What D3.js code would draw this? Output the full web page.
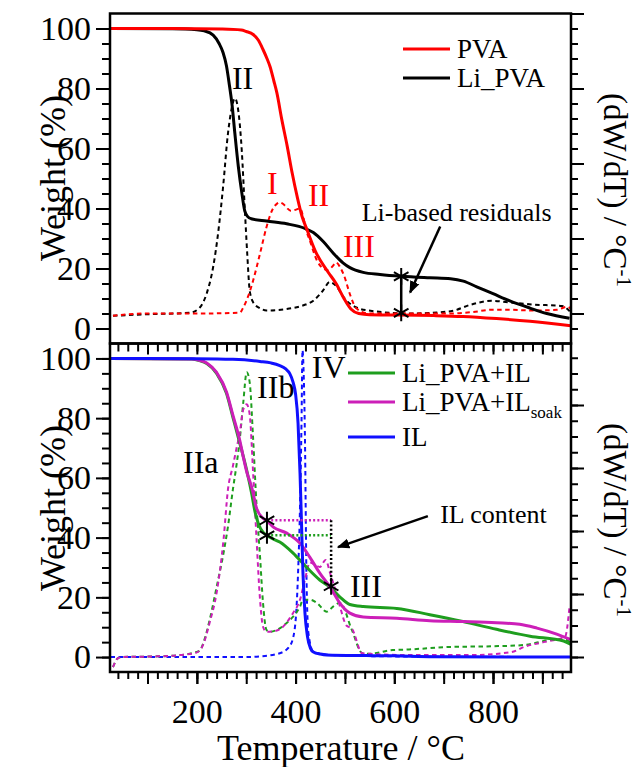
<!DOCTYPE html>
<html>
<head>
<meta charset="utf-8">
<script src="https://cdn.jsdelivr.net/npm/d3@7"></script>
<style>
  body { margin: 0; background: #fff; }
  svg text { font-family: "Liberation Serif", "Times New Roman", serif; fill: #000; }
</style>
</head>
<body>
<svg id="chart" width="642" height="767"></svg>
<script>
// ---- TG curves: [temperature °C, weight %] ----
const pvaTG = [[25,100],[150,100],[250,99.8],[290,99.5],[300,99],[314,98],[325,96],[334,93],[342,90],[348,87.4],[356,82.5],[362,78.6],[372,69.7],[383,60.8],[393,51.9],[403,44.1],[413,37.4],[423,33],[440,25.8],[465,19],[482,15],[498,10],[512,6.5],[528,5],[550,4.6],[605,4.5],[680,4.3],[739,4.0],[807,3.3],[875,2.4],[958,0.9]];
const liPvaTG = [[25,100],[150,99.9],[200,99.6],[215,99.2],[233,97.8],[245,95],[253,92],[260,87.5],[266,81],[271,75],[277,65],[284,54],[291,45.3],[297,39.2],[303,37.3],[310,36.6],[341,35.8],[382,34.9],[420,33.3],[436,32],[456,29],[476,25.2],[496,21.9],[510,20.3],[537,18.7],[571,18],[614,17.4],[672,16.9],[714,16.6],[740,15.8],[767,13.9],[800,11.6],[834,9.2],[875,6.8],[909,5],[955,3.4]];
const liPvaIlTG = [[25,100],[190,99.8],[205,99.3],[220,98.3],[240,95],[260,88.3],[273,80.3],[287,71.6],[301,62.5],[311,54.8],[318,48.5],[325,44.5],[334,41.8],[342,40.8],[348,40.1],[368,38.5],[395,34.8],[422,30.1],[449,25.8],[470,23.4],[490,20.1],[510,17.6],[537,16.9],[605,16.3],[672,14.2],[739,11.9],[807,9.3],[875,7],[943,5.4],[958,4.2]];
const soakTG = [[25,100],[190,99.8],[205,99.4],[220,98.5],[240,95.3],[260,88.8],[273,81],[287,72.5],[294,67],[301,62],[311,56.9],[321,49.8],[334,46.5],[342,45.6],[355,43.5],[382,41.5],[409,38.1],[429,33.4],[449,28.1],[470,23.4],[490,18],[510,14.7],[537,13.4],[605,13],[672,12.2],[739,11.9],[807,11.5],[854,11],[889,9.7],[929,7.7],[958,5.8]];
const ilTG = [[25,100],[200,99.9],[273,99.7],[328,99],[350,98.5],[368,97.6],[380,96.5],[388,95],[395,92],[400,88],[405,78.3],[409,61.5],[412,44.8],[415,28],[419,14.7],[424,7],[430,3],[436,1.7],[450,1],[463,0.7],[544,0.5],[600,0.4],[680,0.1],[958,0]];

// ---- DTG curves: [temperature °C, dW/dT] on the right-hand axes ----
const pvaDTG = [[30,-0.03],[100,0],[200,0],[287,0.01],[294,0.08],[305,0.25],[314,0.44],[328,0.8],[341,1.15],[352,1.37],[360,1.45],[368,1.48],[375,1.46],[382,1.41],[390,1.37],[398,1.38],[409,1.4],[415,1.3],[422,1.1],[429,0.97],[443,0.71],[456,0.6],[465,0.58],[475,0.63],[482,0.68],[490,0.62],[498,0.51],[511,0.24],[523,0.07],[548,0.0],[631,0.0],[714,0.0],[760,0.02],[797,0.05],[830,0.05],[880,0.04],[930,0.05],[950,0.09],[958,0.06]];
const liPvaDTG = [[30,-0.03],[100,-0.01],[186,0.01],[206,0.08],[220,0.27],[233,0.62],[243,1.07],[253,1.68],[263,2.4],[271,2.75],[277,2.87],[284,2.7],[291,2.17],[297,1.41],[302,0.8],[307,0.31],[314,0.15],[328,0.07],[341,0.04],[382,0.06],[416,0.11],[436,0.17],[456,0.31],[469,0.42],[483,0.36],[498,0.21],[523,0.08],[548,0.04],[631,0.0],[714,0.03],[756,0.12],[797,0.17],[830,0.15],[880,0.12],[940,0.1],[957,0.02]];
const ilDTG = [[25,0],[300,0],[328,0.01],[368,0.06],[388,0.17],[398,0.43],[405,1.33],[409,2.4],[412,3.72],[414,4.87],[416,4.6],[419,3.46],[422,1.3],[426,0.38],[436,0.08],[476,0.03],[600,0.01],[958,0]];
const liPvaIlDTG = [[30,-0.16],[40,-0.02],[50,0.0],[120,0.01],[166,0.03],[199,0.08],[206,0.1],[213,0.22],[226,0.59],[240,1.11],[254,1.65],[263,2.07],[273,2.66],[280,3.03],[287,3.46],[294,4.04],[301,4.52],[307,4.36],[314,3.46],[321,2.39],[328,1.59],[334,0.86],[341,0.43],[348,0.4],[362,0.43],[382,0.54],[395,0.64],[409,0.8],[415,0.91],[429,0.91],[443,0.86],[463,0.72],[476,0.8],[490,0.86],[514,0.43],[535,0.06],[548,0.05],[597,0.11],[630,0.12],[714,0.16],[797,0.17],[863,0.19],[921,0.27],[950,0.27],[958,0.2]];
const soakDTG = [[30,-0.16],[40,-0.02],[50,0],[120,0.01],[166,0.03],[199,0.07],[213,0.2],[226,0.55],[240,1.02],[254,1.86],[263,2.66],[273,3.03],[280,3.3],[287,3.56],[294,3.93],[301,4.01],[307,3.85],[314,2.92],[321,1.86],[328,0.91],[334,0.48],[341,0.4],[362,0.42],[395,0.7],[409,0.91],[419,1.23],[429,1.5],[449,1.43],[461,1.54],[470,1.33],[483,1.0],[490,0.8],[503,0.5],[514,0.45],[535,0.06],[630,0.03],[755,0.03],[838,0.08],[863,0.16],[905,0.24],[946,0.32],[955,0.8]];

// ---- IL content guides and Li residual marks: [temperature, weight %] ----
const residualMarks = [[614,17.4],[614,5.2]];
const ilContentMarks = [[342,45.8],[342,40.8],[472,23.7]];
const ilSoakLevel = [[342,45.8],[472,45.8]];
const ilLevel = [[342,40.8],[472,40.8]];
const ilDrop = [[472,45.8],[472,23.7]];

// ---- tick labels ----
const xTickLabels = [200, 400, 600, 800];
const yTickLabels = [0, 20, 40, 60, 80, 100];

const COLORS = { pva: "#ff0000", li: "#000000", il: "#1010ff", liIl: "#1e9e1e", soak: "#cc1fb8" };

const svg = d3.select("#chart");
const X0 = 110, X1 = 571;
const x = d3.scaleLinear().domain([24, 958]).range([X0, X1]);

const panelTop = { y0: 13.5, y1: 343.5 };
const panelBot = { y0: 343.5, y1: 672 };
const yTop = d3.scaleLinear().domain([-5, 105]).range([panelTop.y1, panelTop.y0]);
const yBot = d3.scaleLinear().domain([-5, 105]).range([panelBot.y1, panelBot.y0]);
const rTop = d3.scaleLinear().domain([-0.4, 4]).range([panelTop.y1, panelTop.y0]);
const rBot = d3.scaleLinear().domain([0, 5]).range([657, 342]);

const defs = svg.append("defs");
[["clipTop", panelTop], ["clipBot", panelBot]].forEach(([id, p]) => {
  defs.append("clipPath").attr("id", id).append("rect")
    .attr("x", X0).attr("y", p.y0).attr("width", X1 - X0).attr("height", p.y1 - p.y0);
});
defs.append("marker").attr("id", "arrow").attr("viewBox", "0 0 10 10")
  .attr("refX", 9).attr("refY", 5).attr("markerWidth", 5).attr("markerHeight", 5)
  .attr("orient", "auto").attr("markerUnits", "strokeWidth")
  .append("path").attr("d", "M0,1 L10,5 L0,9 Z").attr("fill", "#000");

function curve(g, data, y, color, dashed, width) {
  g.append("path").datum(data)
    .attr("fill", "none").attr("stroke", color)
    .attr("stroke-width", width || (dashed ? 2 : 3))
    .attr("stroke-dasharray", dashed ? "4.5,3.5" : null)
    .attr("stroke-linejoin", "round")
    .attr("d", d3.line().x(d => x(d[0])).y(d => y(d[1])).curve(d3.curveMonotoneX));
}

function guide(g, data, y, color) {
  g.append("path").datum(data)
    .attr("fill", "none").attr("stroke", color).attr("stroke-width", 2.5)
    .attr("stroke-dasharray", "2,2.2")
    .attr("d", d3.line().x(d => x(d[0])).y(d => y(d[1])));
}

function asterisks(g, data, y) {
  g.selectAll(null).data(data).enter().append("path")
    .attr("transform", d => `translate(${x(d[0])},${y(d[1])})`)
    .attr("d", d3.symbol(d3.symbolAsterisk, 200)())
    .attr("fill", "none").attr("stroke", "#000").attr("stroke-width", 2);
}

function styleAxis(sel) {
  sel.select(".domain").remove();
  sel.selectAll(".tick line").attr("stroke", "#000").attr("stroke-width", 2);
  sel.selectAll(".tick text").attr("font-size", 34).attr("fill", "#000");
}

function leftAxis(y) {
  svg.append("g").attr("transform", `translate(${X0},0)`)
    .call(d3.axisLeft(y).tickValues(d3.range(0, 101, 5)).tickSize(8).tickFormat(""))
    .call(styleAxis);
  svg.append("g").attr("transform", `translate(${X0},0)`)
    .call(d3.axisLeft(y).tickValues(yTickLabels).tickSize(14).tickPadding(5).tickFormat(d3.format("d")))
    .call(styleAxis);
}

function rightAxis(r, minorStep, lo, hi) {
  const minor = d3.range(lo, hi + 1e-6, minorStep).map(v => +v.toFixed(3));
  const major = minor.filter(v => Math.abs(v - Math.round(v)) < 1e-6);
  svg.append("g").attr("transform", `translate(${X1},0)`)
    .call(d3.axisRight(r).tickValues(minor).tickSize(7).tickFormat(""))
    .call(styleAxis);
  svg.append("g").attr("transform", `translate(${X1},0)`)
    .call(d3.axisRight(r).tickValues(major).tickSize(13).tickFormat(""))
    .call(styleAxis);
}

// ---------- upper panel: PVA and Li_PVA ----------
const gTop = svg.append("g").attr("clip-path", "url(#clipTop)");
curve(gTop, liPvaDTG, rTop, COLORS.li, true);
curve(gTop, pvaDTG, rTop, COLORS.pva, true);
curve(gTop, liPvaTG, yTop, COLORS.li, false);
curve(gTop, pvaTG, yTop, COLORS.pva, false);

svg.append("line")
  .attr("x1", x(residualMarks[0][0])).attr("y1", yTop(residualMarks[0][1]))
  .attr("x2", x(residualMarks[1][0])).attr("y2", yTop(residualMarks[1][1]))
  .attr("stroke", "#000").attr("stroke-width", 2.5);
asterisks(svg, residualMarks, yTop);

// ---------- lower panel: IL containing samples ----------
const gBot = svg.append("g").attr("clip-path", "url(#clipBot)");
curve(gBot, ilDTG, rBot, COLORS.il, true);
curve(gBot, liPvaIlDTG, rBot, COLORS.liIl, true);
curve(gBot, soakDTG, rBot, COLORS.soak, true);
curve(gBot, liPvaIlTG, yBot, COLORS.liIl, false);
curve(gBot, soakTG, yBot, COLORS.soak, false);
curve(gBot, ilTG, yBot, COLORS.il, false);

guide(svg, ilSoakLevel, yBot, COLORS.soak);
guide(svg, ilLevel, yBot, COLORS.liIl);
guide(svg, ilDrop, yBot, "#000");
asterisks(svg, ilContentMarks, yBot);

// ---------- frames and axes ----------
[panelTop, panelBot].forEach(p => {
  svg.append("rect").attr("x", X0).attr("y", p.y0).attr("width", X1 - X0).attr("height", p.y1 - p.y0)
    .attr("fill", "none").attr("stroke", "#000").attr("stroke-width", 2.5);
});

leftAxis(yTop);
leftAxis(yBot);
rightAxis(rTop, 0.2, -0.2, 4.0);
rightAxis(rBot, 0.25, 0, 4.75);

const minorX = d3.range(40, 958, 20);
const majorX = d3.range(100, 958, 100);
// inward ticks along the top edge of the lower panel
svg.append("g").attr("transform", `translate(0,${panelBot.y0})`)
  .call(d3.axisBottom(x).tickValues(minorX).tickSize(8).tickFormat("")).call(styleAxis);
svg.append("g").attr("transform", `translate(0,${panelBot.y0})`)
  .call(d3.axisBottom(x).tickValues(majorX).tickSize(11).tickFormat("")).call(styleAxis);
// temperature axis
svg.append("g").attr("transform", `translate(0,${panelBot.y1})`)
  .call(d3.axisBottom(x).tickValues(minorX).tickSize(7).tickFormat("")).call(styleAxis);
svg.append("g").attr("transform", `translate(0,${panelBot.y1})`)
  .call(d3.axisBottom(x).tickValues(majorX).tickSize(12).tickFormat(""))
  .call(styleAxis);
svg.append("g").attr("transform", `translate(0,${panelBot.y1})`)
  .call(d3.axisBottom(x).tickValues(xTickLabels).tickSize(12).tickPadding(15).tickFormat(d3.format("d")))
  .call(styleAxis);

// ---------- axis titles ----------
svg.append("text").attr("x", 341).attr("y", 760).attr("text-anchor", "middle")
  .attr("font-size", 36).text("Temperature / °C");
[178, 508].forEach(cy => {
  svg.append("text").attr("transform", `translate(65,${cy}) rotate(-90)`)
    .attr("text-anchor", "middle").attr("font-size", 36).text("Weight (%)");
});
[190, 520].forEach(cy => {
  const t = svg.append("text").attr("transform", `translate(604,${cy}) rotate(90)`)
    .attr("text-anchor", "middle").attr("font-size", 33);
  t.append("tspan").text("(dW/dT) / °C");
  t.append("tspan").attr("dy", -13).attr("font-size", 21).text("-1");
});

// ---------- legends ----------
function legend(items, lx) {
  items.forEach(it => {
    svg.append("line").attr("x1", lx).attr("x2", lx + 47).attr("y1", it.y).attr("y2", it.y)
      .attr("stroke", it.color).attr("stroke-width", 3);
    const t = svg.append("text").attr("x", lx + 54).attr("y", it.y + 9).attr("font-size", 27);
    t.append("tspan").text(it.label);
    if (it.sub) t.append("tspan").attr("dy", 7).attr("font-size", 17).text(it.sub);
  });
}
legend([
  { label: "PVA", color: COLORS.pva, y: 49 },
  { label: "Li_PVA", color: COLORS.li, y: 78 }
], 403);
legend([
  { label: "Li_PVA+IL", color: COLORS.liIl, y: 373 },
  { label: "Li_PVA+IL", sub: "soak", color: COLORS.soak, y: 402 },
  { label: "IL", color: COLORS.il, y: 437 }
], 348);

// ---------- stage labels and notes ----------
function note(txt, t, w, y, color, size) {
  svg.append("text").attr("x", x(t)).attr("y", y(w)).attr("font-size", size || 32)
    .style("fill", color || "#000").text(txt);
}
note("II", 271, 79.7, yTop);
note("I", 342, 44.7, yTop, COLORS.pva);
note("II", 425, 40.7, yTop, COLORS.pva);
note("III", 496, 24, yTop, COLORS.pva);
note("Li-based residuals", 534, 35.7, yTop, "#000", 26);
note("IV", 433, 93.3, yBot);
note("IIb", 322, 86.6, yBot);
note("IIa", 172, 61.5, yBot);
note("III", 510, 20, yBot);
note("IL content", 693, 44.8, yBot, "#000", 26);

function arrow(y, from, to) {
  svg.append("line")
    .attr("x1", x(from[0])).attr("y1", y(from[1]))
    .attr("x2", x(to[0])).attr("y2", y(to[1]))
    .attr("stroke", "#000").attr("stroke-width", 2.5)
    .attr("marker-end", "url(#arrow)");
}
arrow(yTop, [693, 34], [632, 12]);
arrow(yBot, [668, 47.2], [486, 36.8]);
</script>
</body>
</html>
